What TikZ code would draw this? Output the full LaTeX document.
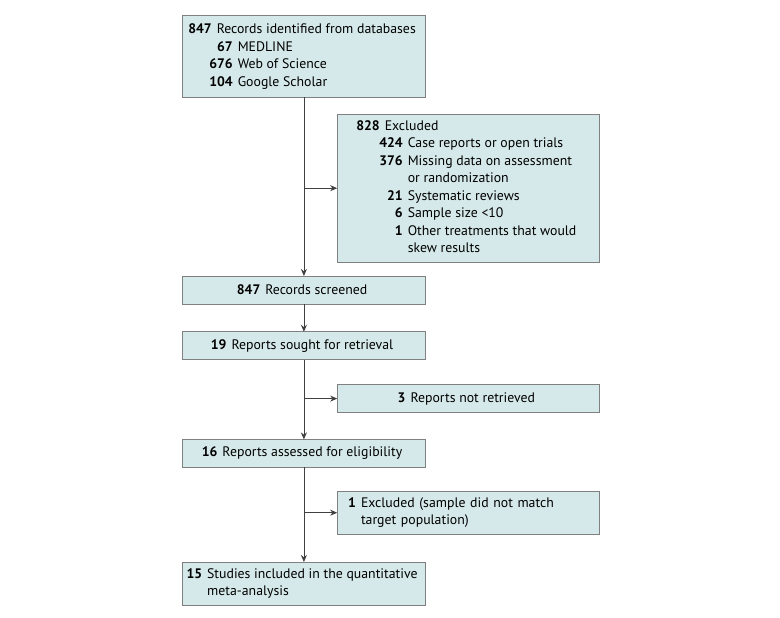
\documentclass[tikz,border=0pt]{standalone}
\usepackage{fontspec}
\setmainfont{PT Sans}
\usepackage{tikz}
\usetikzlibrary{matrix,arrows.meta}
\definecolor{boxfill}{RGB}{214,233,234}
\definecolor{boxline}{RGB}{128,128,128}
\definecolor{arrowline}{RGB}{64,64,64}
\newcommand{\cnt}[1]{\textbf{#1}}

\begin{document}
\begin{tikzpicture}[x=1pt,y=1pt]
  \useasboundingbox (0,0) rectangle (780,-618);
  \matrix (m) [matrix of nodes,ampersand replacement=\&,anchor=north west,
    inner sep=0pt,outer sep=0pt,row sep=26pt,column sep=-89pt,
    nodes={draw=boxline,fill=boxfill,line width=0.8pt,inner xsep=0pt,inner ysep=4pt,
      minimum height=28pt,font=\fontsize{13.8}{17.5}\selectfont,align=center},
    column 1/.style={nodes={minimum width=243pt}},
    column 2/.style={nodes={minimum width=262pt}}] at (182,-15) {
     |[inner ysep=6pt]|
     \begin{tabular}{@{}l@{}}
       \cnt{847}\hspace{5pt}Records identified from databases\\
       \hspace{21pt}\begin{tabular}[t]{@{}r@{\hspace{5pt}}l@{}}
         \cnt{67} & MEDLINE\\
         \cnt{676} & Web of Science\\
         \cnt{104} & Google Scholar
       \end{tabular}
     \end{tabular} \& \\[-10pt]
     \& \begin{tabular}{@{}l@{}}
       \cnt{828}\hspace{5pt}Excluded\\
       \hspace{23pt}\begin{tabular}[t]{@{}r@{\hspace{5pt}}l@{}}
         \cnt{424} & Case reports or open trials\\
         \cnt{376} & Missing data on assessment\\
          & or randomization\\
         \cnt{21} & Systematic reviews\\
         \cnt{6} & Sample size <10\\
         \cnt{1} & Other treatments that would\\
          & skew results
       \end{tabular}
     \end{tabular} \\[-13pt]
     \cnt{847}\hspace{5pt}Records screened \& \\[1pt]
     \cnt{19}\hspace{5pt}Reports sought for retrieval \& \\[-2pt]
     \& \cnt{3}\hspace{5pt}Reports not retrieved \\
     \cnt{16}\hspace{5pt}Reports assessed for eligibility \& \\[-3pt]
     \& |[text width=240pt,inner xsep=11pt,align=left]|
       \begin{tabular}{@{}r@{\hspace{5pt}}l@{}}
         \cnt{1} & Excluded (sample did not match\\
          & target population)
       \end{tabular} \\[1pt]
     \begin{tabular}{@{}r@{\hspace{5pt}}l@{}}
       \cnt{15} & Studies included in the quantitative\\
        & meta-analysis
     \end{tabular} \& \\
  };
  \path[-{Stealth[length=7pt,width=6pt]},arrowline,line width=0.8pt]
    (m-1-1) edge (m-3-1)
    (m-3-1) edge (m-4-1)
    (m-4-1) edge (m-6-1)
    (m-6-1) edge (m-8-1)
    (m-2-2.west -| m-1-1) edge (m-2-2)
    (m-5-2.west -| m-1-1) edge (m-5-2)
    (m-7-2.west -| m-1-1) edge (m-7-2);
\end{tikzpicture}
\end{document}
